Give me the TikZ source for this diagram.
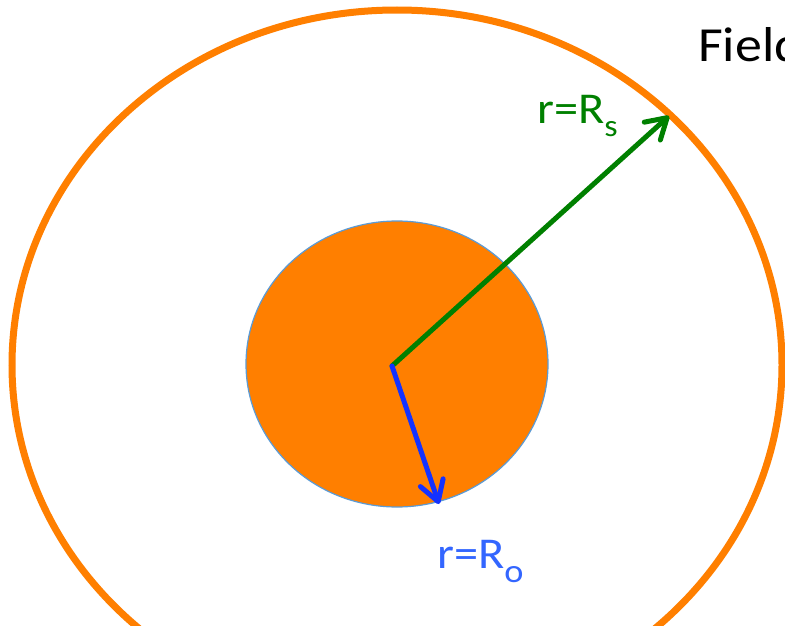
\documentclass[tikz,border=0pt]{standalone}
\usepackage{fontspec}
\setmainfont{Carlito}
\usetikzlibrary{arrows.meta}
\definecolor{ringorange}{RGB}{255,127,0}
\definecolor{arrowgreen}{RGB}{0,128,0}
\definecolor{arrowblue}{RGB}{20,50,255}
\definecolor{textblue}{RGB}{51,102,255}
\definecolor{edgeblue}{RGB}{91,155,213}
\tikzset{
  radiusarrow/.style={line width=5pt,line cap=round,-{Straight Barb[length=20pt,width=24pt,line width=5pt,line cap=round,round]}},
  lbl/.style={inner sep=0pt,anchor=base west,xscale=1.1}
}
\begin{document}
\begin{tikzpicture}[x=1pt,y=-1pt]
\useasboundingbox (0,0) rectangle (785,626);
\clip (0,0) rectangle (785,626);
\fill[white] (0,0) rectangle (785,626);
\coordinate (ctr) at (397,365);
\draw[ringorange,line width=7pt] (ctr) ellipse [x radius=385, y radius=355];
\coordinate (core) at (397,364);
\fill[ringorange,draw=edgeblue,line width=1.2pt] (core) ellipse [x radius=151, y radius=143];
\coordinate (o) at (392,366);
\coordinate (s) at (669,116);
\coordinate (b) at (439,504);
\draw[arrowgreen,radiusarrow] (o) -- (s);
\draw[arrowblue,radiusarrow] (o) -- (b);
\node[lbl,text=arrowgreen,font=\fontsize{44}{52}\selectfont] (rs) at (537,124) {r=R\raisebox{-13pt}{\fontsize{31}{36}\selectfont s}};
\node[lbl,text=textblue,font=\fontsize{44}{52}\selectfont] (ro) at (437,568) {r=R\raisebox{-14pt}{\fontsize{33}{38}\selectfont o}};
\node[lbl,font=\fontsize{49}{58}\selectfont] (field) at (698,62) {Field};
\end{tikzpicture}
\end{document}
